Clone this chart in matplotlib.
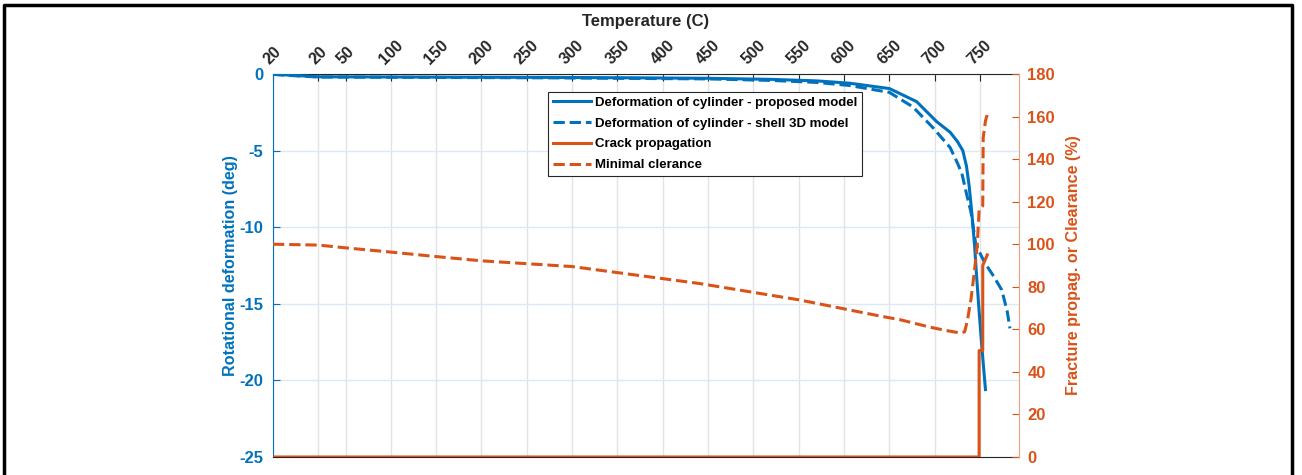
import numpy as np
import matplotlib.pyplot as plt
from matplotlib.lines import Line2D

plt.rcParams['font.family'] = ['Liberation Sans', 'DejaVu Sans']
plt.rcParams['font.weight'] = 'bold'
plt.rcParams['axes.labelweight'] = 'bold'
plt.rcParams['axes.unicode_minus'] = False

BLUE = '#0072BD'
ORANGE = '#D95319'

# x axis = load step; the top axis shows the temperature reached at each step
tick_pos = [0, 50, 80, 130, 180, 230, 280, 330, 380, 430, 480, 530, 580, 630, 680, 730, 780]
tick_labels = ['20', '20', '50', '100', '150', '200', '250', '300', '350', '400',
               '450', '500', '550', '600', '650', '700', '750']

# deformation of cylinder - proposed model (deg)
prop_x = [0, 5, 50, 150, 300, 400, 480, 550, 600, 636, 680, 710, 732, 747, 755, 761,
          765, 768, 771, 774, 776, 779, 782, 786]
prop_y = [0, -0.03, -0.18, -0.2, -0.22, -0.25, -0.28, -0.35, -0.45, -0.6, -0.95, -1.8,
          -3.1, -3.8, -4.4, -5.0, -6.0, -7.3, -9.1, -11.2, -13.0, -15.5, -17.8, -20.6]

# deformation of cylinder - shell 3D model (deg)
shell_x = [0, 5, 50, 300, 480, 550, 600, 636, 680, 706, 728, 747, 755, 760, 765, 770,
           775, 780, 785, 795, 804, 810, 813]
shell_y = [0, -0.05, -0.2, -0.25, -0.32, -0.42, -0.55, -0.75, -1.2, -2.15, -3.5, -4.8,
           -5.8, -6.5, -7.8, -9.0, -11.0, -11.7, -12.3, -13.2, -14.1, -15.5, -16.6]

# crack propagation (%)
crack_x = [0, 779, 779, 783, 783, 788]
crack_y = [0, 0, 50, 50, 90, 95]

# minimal clearance (%)
clear_x = [0, 50, 80, 130, 180, 230, 330, 471, 581, 669, 692, 725, 742, 758, 763, 766,
           770, 774, 777, 779, 783, 783.5, 786, 788]
clear_y = [100, 99.6, 98.3, 96.3, 94.2, 92.2, 89.5, 81.5, 73.8, 66.3, 64.5, 61, 59.5,
           58.3, 58.8, 64, 74, 88, 100, 116, 118, 150, 158, 161]

fig = plt.figure(figsize=(13.02, 4.75), dpi=100)
ax = fig.add_axes([273/1302, 18/475, 746/1302, 383/475])
ax2 = ax.twinx()

l1, = ax.plot(prop_x, prop_y, color=BLUE, lw=2.2, zorder=3)
l2, = ax.plot(shell_x, shell_y, color=BLUE, lw=2.2, ls='--', zorder=3)
l3, = ax2.plot(crack_x, crack_y, color=ORANGE, lw=2.2, zorder=3)
l4, = ax2.plot(clear_x, clear_y, color=ORANGE, lw=2.2, ls='--', zorder=3)

ax.set_xlim(0, 823)
ax.set_ylim(-25, 0)
ax2.set_ylim(0, 180)

ax.xaxis.tick_top()
ax.xaxis.set_label_position('top')
ax.set_xticks(tick_pos)
ax.set_xticklabels(tick_labels, rotation=45, fontsize=11.5, color='#262626',
                   fontweight='bold')
ax.tick_params(axis='x', direction='in', length=5, color='#262626', pad=5)
ax.set_xlabel('Temperature (C)', fontsize=12, color='#262626', labelpad=8)

ax.set_yticks([-25, -20, -15, -10, -5, 0])
ax.tick_params(axis='y', direction='in', length=5, colors=BLUE, labelsize=12, pad=7)
ax.set_ylabel('Rotational deformation (deg)', fontsize=11.6, color=BLUE, labelpad=1)
ax2.set_yticks(np.arange(0, 181, 20))
ax2.tick_params(axis='y', direction='in', length=5, colors=ORANGE, labelsize=12, pad=6)
ax2.set_ylabel('Fracture propag. or Clearance (%)', fontsize=11.6, color=ORANGE,
               labelpad=8)
for t in ax.get_yticklabels() + ax2.get_yticklabels():
    t.set_fontweight('bold')

ax.grid(axis='x', color='#e3e3e3', lw=1)
ax.grid(axis='y', color='#dce9f4', lw=1)
ax.set_axisbelow(True)

ax.spines['right'].set_visible(False)
for s in ['left', 'top', 'bottom']:
    ax2.spines[s].set_visible(False)
ax.spines['left'].set_color(BLUE)
ax.spines['top'].set_color('#262626')
ax.spines['bottom'].set_color('#262626')
ax2.spines['right'].set_color('#eda07f')

leg = ax2.legend([l1, l2, l3, l4],
                 ['Deformation of cylinder - proposed model',
                  'Deformation of cylinder - shell 3D model',
                  'Crack propagation', 'Minimal clerance'],
                 loc='upper left', bbox_to_anchor=((548-273)/746, (457-92)/383),
                 fontsize=9.5, fancybox=False, framealpha=1, edgecolor='#262626',
                 handlelength=2.9, handletextpad=0.3, labelspacing=0.65, borderpad=0.35,
                 borderaxespad=0)
leg.get_frame().set_linewidth(0.8)

# figure frame
fig.add_artist(Line2D([4/1302, 4/1302, 1292/1302, 1292/1302],
                      [0, 1 - 5/475, 1 - 5/475, 0], color='black', lw=2.5,
                      transform=fig.transFigure))

fig.savefig('out.png', dpi=100)
